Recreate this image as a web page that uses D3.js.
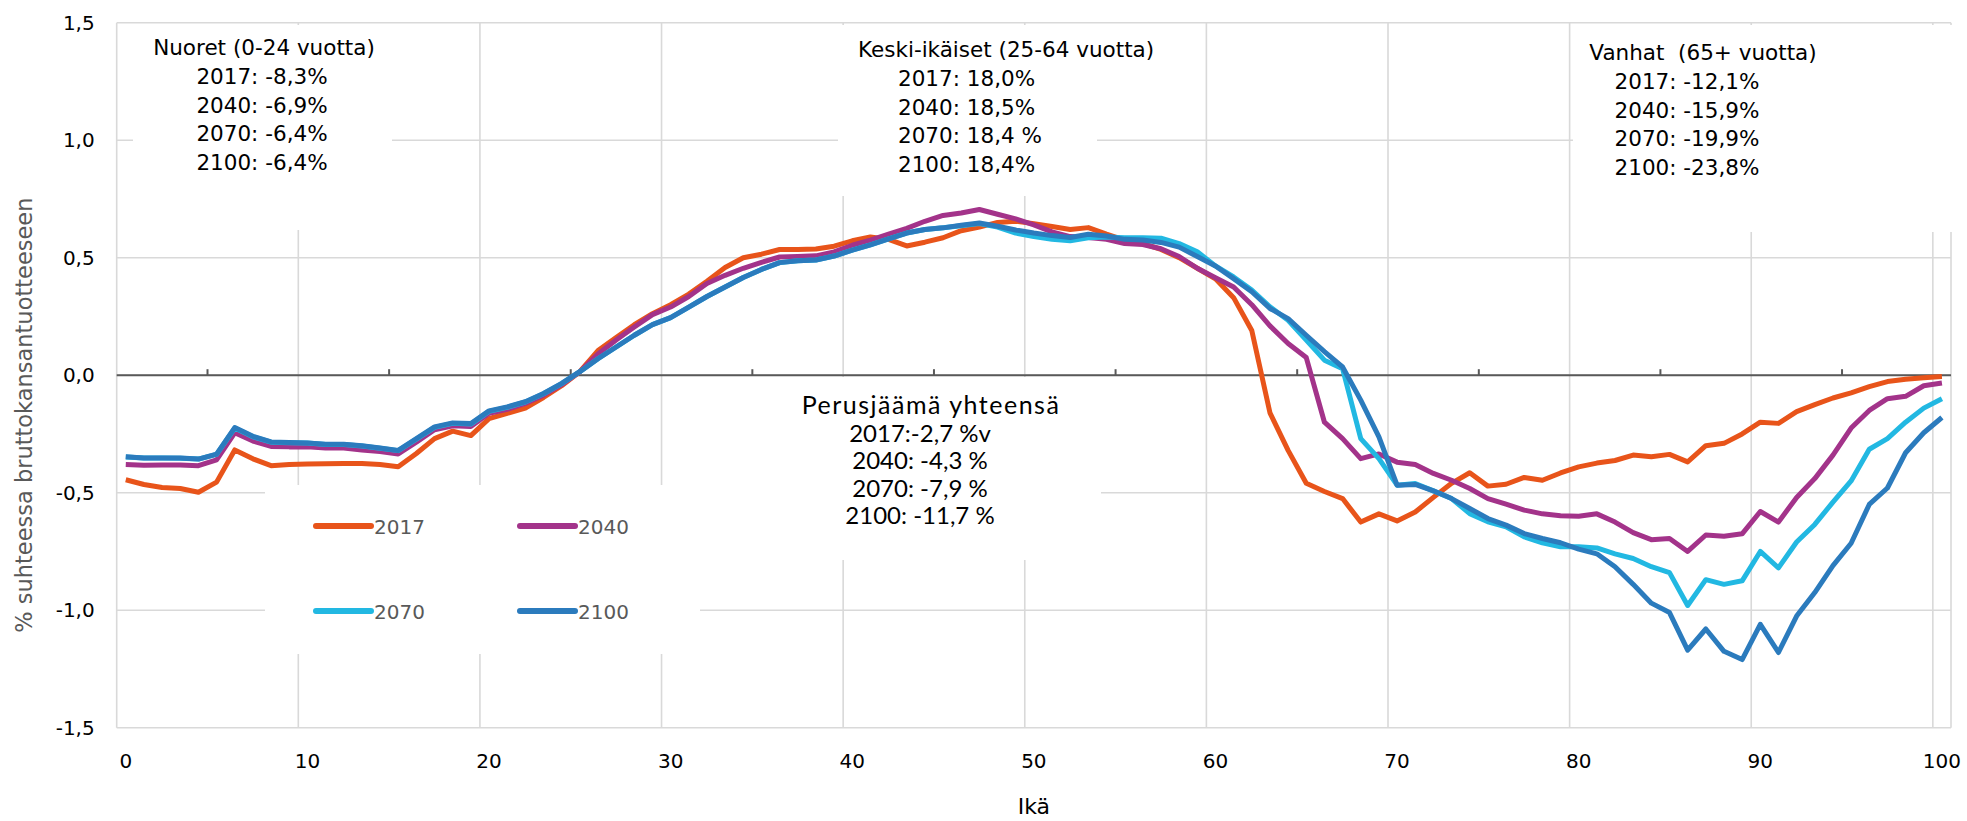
<!DOCTYPE html>
<html>
<head>
<meta charset="utf-8">
<script src="https://cdn.jsdelivr.net/npm/d3@7"></script>
<style>
  body { margin: 0; background: #fff; }
  svg { display: block; }
</style>
</head>
<body>
<div id="chart"></div>
<script>
// ikä 0..100
const ages = d3.range(0, 101);

const s2017 = [
  -0.445, -0.465, -0.478, -0.482, -0.498, -0.455, -0.318, -0.356, -0.385, -0.380,
  -0.378, -0.377, -0.376, -0.376, -0.380, -0.390, -0.333, -0.270, -0.238, -0.257,
  -0.185, -0.162, -0.140, -0.095, -0.045, 0.015, 0.105, 0.160, 0.215, 0.262,
  0.300, 0.345, 0.400, 0.458, 0.500, 0.515, 0.535, 0.535, 0.537, 0.549,
  0.572, 0.588, 0.578, 0.550, 0.566, 0.585, 0.615, 0.630, 0.650, 0.655,
  0.645, 0.633, 0.620, 0.628, 0.600, 0.575, 0.560, 0.535, 0.500, 0.455,
  0.410, 0.330, 0.190, -0.160, -0.320, -0.460, -0.495, -0.525, -0.625, -0.590,
  -0.620, -0.582, -0.520, -0.460, -0.415, -0.472, -0.464, -0.435, -0.447, -0.416,
  -0.390, -0.374, -0.363, -0.340, -0.347, -0.337, -0.369, -0.300, -0.290, -0.250,
  -0.200, -0.205, -0.155, -0.125, -0.097, -0.075, -0.049, -0.027, -0.017, -0.011,
  -0.006
];

const s2040 = [
  -0.380, -0.383, -0.382, -0.382, -0.385, -0.360, -0.245, -0.280, -0.303, -0.305,
  -0.305, -0.310, -0.310, -0.318, -0.325, -0.335, -0.285, -0.232, -0.215, -0.218,
  -0.162, -0.145, -0.120, -0.085, -0.040, 0.015, 0.090, 0.150, 0.205, 0.258,
  0.290, 0.335, 0.390, 0.425, 0.455, 0.480, 0.503, 0.505, 0.508, 0.525,
  0.553, 0.575, 0.600, 0.625, 0.655, 0.680, 0.690, 0.705, 0.685, 0.665,
  0.640, 0.610, 0.590, 0.586, 0.578, 0.560, 0.556, 0.538, 0.505, 0.455,
  0.415, 0.375, 0.300, 0.210, 0.135, 0.075, -0.200, -0.270, -0.355, -0.335,
  -0.370, -0.380, -0.418, -0.447, -0.482, -0.525, -0.549, -0.574, -0.590, -0.598,
  -0.600, -0.590, -0.625, -0.670, -0.700, -0.695, -0.750, -0.680, -0.685, -0.675,
  -0.580, -0.625, -0.520, -0.440, -0.340, -0.225, -0.150, -0.100, -0.090, -0.045,
  -0.033
];

const s2070 = [
  -0.348, -0.352, -0.352, -0.353, -0.357, -0.337, -0.225, -0.262, -0.285, -0.287,
  -0.289, -0.295, -0.295, -0.301, -0.311, -0.321, -0.272, -0.222, -0.205, -0.208,
  -0.154, -0.137, -0.114, -0.079, -0.036, 0.015, 0.070, 0.120, 0.170, 0.215,
  0.245, 0.290, 0.335, 0.375, 0.416, 0.450, 0.479, 0.487, 0.490, 0.507,
  0.532, 0.555, 0.580, 0.605, 0.620, 0.627, 0.636, 0.645, 0.630, 0.605,
  0.590, 0.578, 0.572, 0.585, 0.588, 0.585, 0.585, 0.583, 0.560, 0.525,
  0.465, 0.418, 0.362, 0.291, 0.234, 0.149, 0.064, 0.028, -0.270, -0.355,
  -0.468, -0.461, -0.492, -0.525, -0.589, -0.624, -0.645, -0.688, -0.713, -0.730,
  -0.730, -0.735, -0.760, -0.780, -0.815, -0.840, -0.980, -0.870, -0.890, -0.875,
  -0.750, -0.820, -0.710, -0.635, -0.540, -0.450, -0.315, -0.270, -0.200, -0.140,
  -0.100
];

const s2100 = [
  -0.347, -0.352, -0.352, -0.352, -0.357, -0.336, -0.223, -0.260, -0.284, -0.286,
  -0.288, -0.294, -0.294, -0.300, -0.310, -0.320, -0.270, -0.220, -0.203, -0.206,
  -0.152, -0.135, -0.113, -0.078, -0.035, 0.015, 0.070, 0.120, 0.170, 0.215,
  0.245, 0.290, 0.335, 0.375, 0.416, 0.450, 0.479, 0.487, 0.490, 0.507,
  0.532, 0.555, 0.580, 0.605, 0.620, 0.627, 0.638, 0.648, 0.634, 0.618,
  0.605, 0.594, 0.586, 0.600, 0.592, 0.578, 0.575, 0.565, 0.545, 0.505,
  0.465, 0.411, 0.355, 0.284, 0.241, 0.170, 0.100, 0.035, -0.106, -0.262,
  -0.468, -0.465, -0.492, -0.525, -0.567, -0.610, -0.638, -0.674, -0.695, -0.713,
  -0.740, -0.760, -0.815, -0.890, -0.970, -1.010, -1.170, -1.080, -1.175, -1.210,
  -1.060, -1.180, -1.025, -0.925, -0.810, -0.715, -0.550, -0.480, -0.330, -0.245,
  -0.180
];

const seriesNames = ["2017", "2040", "2070", "2100"];
const seriesColors = ["#e8541a", "#a3338a", "#22b8e2", "#2b7bbd"];
const yTicks = [-1.5, -1.0, -0.5, 0, 0.5, 1.0, 1.5];
const xTickAges = [0, 10, 20, 30, 40, 50, 60, 70, 80, 90, 100];

const nuoret = ["Nuoret (0-24 vuotta)", "2017: -8,3%", "2040: -6,9%", "2070: -6,4%", "2100: -6,4%"];
const keski = ["Keski-ikäiset (25-64 vuotta)", "2017: 18,0%", "2040: 18,5%", "2070: 18,4 %", "2100: 18,4%"];
const vanhat = ["Vanhat  (65+ vuotta)", "2017: -12,1%", "2040: -15,9%", "2070: -19,9%", "2100: -23,8%"];
const perus = ["Perusjäämä yhteensä", "2017:-2,7 %v", "2040: -4,3 %", "2070: -7,9 %", "2100: -11,7 %"];

const W = 1967, H = 821;
const mLeft = 116.7, mRight = 1951, mTop = 22.7, mBottom = 727.7;
const font = "'DejaVu Sans', sans-serif";

const svg = d3.select("#chart").append("svg")
  .attr("width", W).attr("height", H);

const x = d3.scaleBand().domain(ages).range([mLeft, mRight]).padding(0);
const bw = x.bandwidth();
const cx = a => x(a) + bw / 2;
const y = d3.scaleLinear().domain([-1.5, 1.5]).range([mBottom, mTop]);

// gridlines
const grid = svg.append("g").attr("stroke", "#d9d9d9").attr("stroke-width", 1.6);
grid.selectAll("line.h").data(yTicks).join("line")
  .attr("x1", mLeft).attr("x2", mRight)
  .attr("y1", d => y(d)).attr("y2", d => y(d));
grid.selectAll("line.v").data(xTickAges).join("line")
  .attr("x1", d => x(d)).attr("x2", d => x(d))
  .attr("y1", mTop).attr("y2", mBottom);
grid.append("line").attr("x1", mRight).attr("x2", mRight).attr("y1", mTop).attr("y2", mBottom);

// white boxes behind annotation texts (they cover gridlines)
const boxes = [
  [133, 25, 392, 230],
  [838, 25, 1097, 196],
  [1573, 25, 1967, 232],
  [700, 377, 1101, 560],
  [265, 485, 700, 654]
];
svg.append("g").selectAll("rect").data(boxes).join("rect")
  .attr("x", d => d[0]).attr("y", d => d[1])
  .attr("width", d => d[2] - d[0]).attr("height", d => d[3] - d[1])
  .attr("fill", "#fff");

// zero axis
svg.append("line")
  .attr("x1", mLeft).attr("x2", mRight)
  .attr("y1", y(0)).attr("y2", y(0))
  .attr("stroke", "#595959").attr("stroke-width", 2);
svg.append("g").selectAll("line").data(d3.range(5, 100, 10)).join("line")
  .attr("x1", d => x(d)).attr("x2", d => x(d))
  .attr("y1", y(0)).attr("y2", y(0) - 6)
  .attr("stroke", "#595959").attr("stroke-width", 2);

// y axis labels
const yAxis = d3.axisLeft(y).tickValues(yTicks).tickSize(0).tickPadding(22)
  .tickFormat(d => d3.format(".1f")(d).replace(".", ",").replace("\u2212", "-"));
svg.append("g").attr("transform", `translate(${mLeft},0)`).call(yAxis)
  .call(g => g.select(".domain").remove())
  .selectAll("text").attr("font-family", font).attr("font-size", 20).attr("fill", "#000");

// x axis labels
const xAxis = d3.axisBottom(x).tickValues(xTickAges).tickSize(0).tickPadding(26);
svg.append("g").attr("transform", `translate(0,${mBottom})`).call(xAxis)
  .call(g => g.select(".domain").remove())
  .selectAll("text").attr("font-family", font).attr("font-size", 20).attr("fill", "#000");

// axis titles
svg.append("text")
  .attr("transform", `translate(32,${(mTop + mBottom) / 2 + 40}) rotate(-90)`)
  .attr("text-anchor", "middle")
  .attr("font-family", font).attr("font-size", 22.5).attr("fill", "#595959")
  .text("% suhteessa bruttokansantuotteeseen");
svg.append("text")
  .attr("x", (mLeft + mRight) / 2).attr("y", 814)
  .attr("text-anchor", "middle")
  .attr("font-family", font).attr("font-size", 22).attr("fill", "#000")
  .text("Ikä");

// series lines
const allSeries = [s2017, s2040, s2070, s2100];
const line = d3.line().x((d, i) => cx(ages[i])).y(d => y(d));
svg.append("g").selectAll("path").data(allSeries).join("path")
  .attr("d", d => line(d))
  .attr("fill", "none")
  .attr("stroke", (d, i) => seriesColors[i])
  .attr("stroke-width", 5)
  .attr("stroke-linejoin", "round");

// legend
const legendPos = [[316, 526], [520, 526], [316, 611], [520, 611]];
const lg = svg.append("g").selectAll("g").data(seriesNames).join("g")
  .attr("transform", (d, i) => `translate(${legendPos[i][0]},${legendPos[i][1]})`);
lg.append("line").attr("x1", 0).attr("x2", 55)
  .attr("stroke", (d, i) => seriesColors[i]).attr("stroke-width", 6).attr("stroke-linecap", "round");
lg.append("text").attr("x", 58).attr("y", 8)
  .attr("font-family", font).attr("font-size", 20).attr("fill", "#595959")
  .text(d => d);

// annotation blocks
function block(lines, cxh, cxl, y0, dy, size, fam, anchor, headSize, headSpacing) {
  const g = svg.append("g").attr("font-family", fam).attr("font-size", size).attr("fill", "#000");
  g.selectAll("text").data(lines).join("text")
    .attr("x", (d, i) => i === 0 ? cxh : cxl)
    .attr("y", (d, i) => y0 + i * dy)
    .attr("text-anchor", anchor)
    .attr("font-size", (d, i) => i === 0 && headSize ? headSize : size)
    .attr("letter-spacing", (d, i) => i === 0 && headSpacing ? headSpacing : 0)
    .attr("xml:space", "preserve")
    .text(d => d);
}
block(nuoret, 264, 262, 55, 28.8, 21.5, font, "middle");
block(keski, 858, 898, 57, 28.8, 21.5, font, "start");
block(vanhat, 1703, 1687, 60, 28.8, 21.5, font, "middle");
block(perus, 931, 920, 414, 27.6, 24, "Lato, sans-serif", "middle", 25, 1.5);
</script>
</body>
</html>
